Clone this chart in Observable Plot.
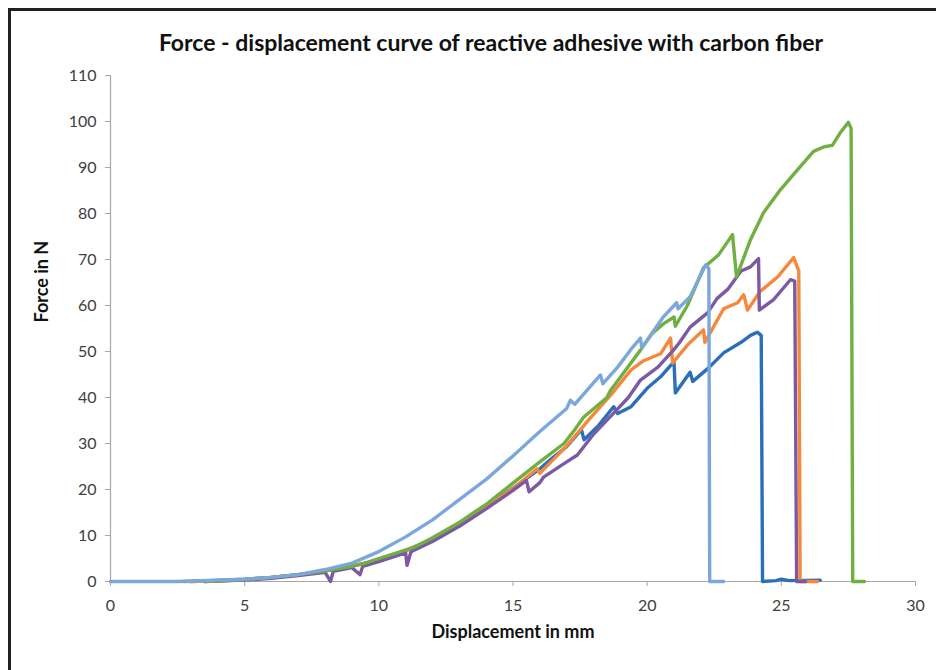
<!DOCTYPE html>
<html>
<head>
<meta charset="utf-8">
<script src="https://cdn.jsdelivr.net/npm/d3@7"></script>
<script src="https://cdn.jsdelivr.net/npm/@observablehq/plot@0.6"></script>
<style>
  html, body { margin: 0; padding: 0; background: #fff; }
  #wrap { position: relative; width: 936px; height: 670px; overflow: hidden; font-family: Lato, "Open Sans", sans-serif; }
  #frame { position: absolute; left: 8px; top: 8px; width: 940px; height: 700px; border-left: 3px solid #231f20; border-top: 3px solid #231f20; box-sizing: border-box; }
  #title { position: absolute; left: 0; width: 982px; top: 28px; text-align: center; font-weight: bold; font-size: 23px; color: #111; }
  #chart { position: absolute; left: 0; top: 0; }
</style>
</head>
<body>
<div id="wrap">
  <div id="frame"></div>
  <div id="chart"></div>
  <div id="title">Force - displacement curve of reactive adhesive with carbon fiber</div>
</div>
<script>
// ---- Data ----
const xTicks = [0, 5, 10, 15, 20, 25, 30];
const yTicks = [0, 10, 20, 30, 40, 50, 60, 70, 80, 90, 100, 110];

const darkBlueX = [3, 5, 6, 7, 8, 9, 10, 11, 12, 13, 14, 15, 16, 16.5, 17, 17.55, 17.65, 18.2, 18.75, 18.9, 19.4, 20, 20.5, 21.0, 21.05, 21.6, 21.7, 22.3, 22.85, 23.5, 23.85, 24.1, 24.25, 24.3, 24.8, 25.0, 25.3, 26.45];
const darkBlueY = [0, 0.5, 0.9, 1.5, 2.3, 3.4, 4.6, 6.7, 9.3, 12.5, 16.3, 20.3, 24.5, 27, 29.3, 33, 30.8, 34, 38, 36.5, 38, 42, 44.5, 47.8, 41, 45.5, 43.5, 46.5, 49.7, 52, 53.5, 54.2, 53.5, 0, 0.2, 0.5, 0.2, 0.3];

const orangeX = [2.7, 4, 5, 6, 7, 8, 9, 10, 11, 12, 13, 14, 15, 15.9, 16.0, 16.5, 17, 17.9, 18.64, 19.4, 19.87, 20.5, 20.87, 20.95, 21.5, 22.1, 22.15, 22.85, 23.37, 23.6, 23.74, 24.2, 24.86, 25.46, 25.65, 25.7, 26.35];
const orangeY = [0, 0.1, 0.4, 0.9, 1.5, 2.3, 3.4, 4.6, 6.7, 9.2, 12.4, 16.2, 20.2, 24.5, 23.5, 26.5, 29.5, 35.7, 40.5, 46, 48, 49.5, 52.9, 47.5, 51.4, 54.7, 52, 59.3, 60.6, 62.3, 59, 63, 66.2, 70.4, 67.5, 0, 0];

const purpleX = [3.5, 5, 6, 7, 8, 8.2, 8.3, 9, 9.3, 9.4, 10, 11, 11.05, 11.2, 12, 13, 14, 15, 15.5, 15.6, 16, 16.14, 17, 17.4, 18, 18.75, 19.3, 19.75, 20.1, 20.4, 20.98, 21.2, 21.6, 22.25, 22.6, 23.0, 23.5, 23.85, 24.15, 24.18, 24.7, 25.34, 25.5, 25.57, 25.9];
const purpleY = [0, 0.3, 0.7, 1.3, 2, 0, 2.2, 3, 1.5, 3.3, 4.3, 6.2, 3.5, 6.5, 8.7, 12, 15.8, 19.8, 22, 19.5, 21.5, 22.7, 26, 27.5, 32, 36.6, 40, 43.8, 45.3, 46.6, 50.3, 51.9, 55.3, 58.4, 61.5, 63.5, 67.5, 68.4, 70.2, 59, 61.2, 65.6, 65.3, 0, 0];

const greenX = [3.5, 5, 6, 7, 8, 9, 9.43, 10, 11.3, 12, 12.93, 14.05, 15.28, 16, 16.9, 17.3, 17.63, 18.5, 18.64, 19.2, 19.75, 20.2, 20.6, 21.0, 21.05, 21.5, 22.1, 22.66, 23.18, 23.33, 23.85, 24.34, 24.97, 25.6, 26.2, 26.6, 26.9, 27.2, 27.5, 27.6, 27.66, 28.1];
const greenY = [0, 0.4, 0.9, 1.5, 2.3, 3.3, 3.9, 5, 7.4, 9.5, 12.6, 17, 22.7, 26, 30, 33, 35.7, 40, 41.6, 46, 50.3, 54, 56, 57.5, 55.5, 60, 68.2, 71, 75.4, 66.2, 74.3, 80.2, 85.2, 89.5, 93.5, 94.5, 94.8, 97.6, 99.8, 98.5, 0, 0];

const lightBlueX = [0, 2.5, 3, 4, 5, 6, 7, 8, 9, 10, 11, 12, 13, 14, 15, 16, 17, 17.14, 17.3, 17.6, 18.26, 18.35, 18.9, 19.4, 19.75, 19.8, 20.6, 21.1, 21.15, 21.6, 22.18, 22.3, 22.33, 22.85];
const lightBlueY = [0, 0, 0.1, 0.3, 0.5, 0.9, 1.5, 2.6, 4.0, 6.5, 9.7, 13.4, 17.8, 22.2, 27.3, 32.6, 37.6, 39.4, 38.5, 40.5, 44.9, 43, 46.6, 50.5, 52.9, 50.8, 57.5, 60.6, 59.3, 61.9, 68.8, 68, 0, 0];

const seriesColors = {
  darkBlue: "#2a6fb8",
  orange: "#f5883a",
  purple: "#7b5aa3",
  green: "#70b043",
  lightBlue: "#7ba7db"
};

// ---- Build tables ----
const toRows = (xs, ys) => xs.map((x, i) => ({x, y: ys[i]}));
const series = [
  ["darkBlue", toRows(darkBlueX, darkBlueY)],
  ["orange", toRows(orangeX, orangeY)],
  ["purple", toRows(purpleX, purpleY)],
  ["green", toRows(greenX, greenY)],
  ["lightBlue", toRows(lightBlueX, lightBlueY)]
];

const axisGray = "#a6a6a6";
const textGray = "#404040";

const chart = Plot.plot({
  width: 936,
  height: 670,
  marginLeft: 110,
  marginRight: 21,
  marginTop: 75,
  marginBottom: 89,
  style: { fontFamily: "Lato, 'Open Sans', sans-serif", fontSize: "16px", background: "transparent", overflow: "visible" },
  x: { domain: [0, 30] },
  y: { domain: [0, 110] },
  marks: [
    Plot.axisX({ ticks: xTicks, tickSize: 5, tickPadding: 13, stroke: axisGray, fill: textGray, fontSize: 16, label: null }),
    Plot.axisY({ ticks: yTicks, tickSize: 5, tickPadding: 9, stroke: axisGray, fill: textGray, fontSize: 16, label: null }),
    Plot.ruleY([0], { stroke: axisGray, strokeWidth: 1.2 }),
    Plot.ruleX([0], { stroke: axisGray, strokeWidth: 1.2 }),
    ...series.map(([name, rows]) => Plot.line(rows, {
      x: "x", y: "y", stroke: seriesColors[name], strokeWidth: 3.4, strokeLinejoin: "round", curve: "linear"
    })),
    Plot.text(["Displacement in mm"], { frameAnchor: "bottom", dy: 56, fontWeight: "bold", fontSize: 18, fill: "#111" }),
    Plot.text(["Force in N"], { frameAnchor: "left", dx: -68, dy: -6, rotate: -90, fontWeight: "bold", fontSize: 18, fill: "#111" })
  ]
});
document.getElementById("chart").appendChild(chart);
</script>
</body>
</html>
